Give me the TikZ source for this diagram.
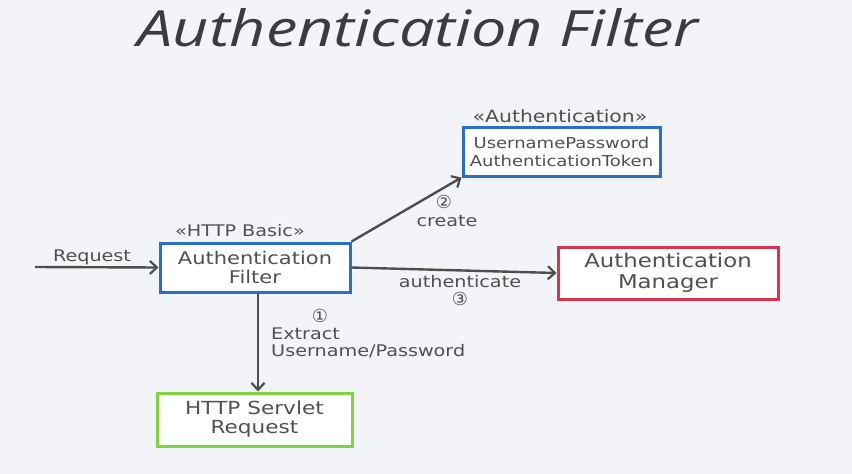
\documentclass[tikz,border=0pt]{standalone}
\usepackage{fontspec}
\setmainfont{DejaVu Sans}
\newfontfamily\titlefont[FakeStretch=1.26]{Open Sans}
\newfontfamily\hand[FakeStretch=1.2]{DejaVu Sans}
\newfontfamily\symfont{DejaVu Sans}
\usetikzlibrary{arrows.meta}
\definecolor{bg}{HTML}{F2F4F7}
\definecolor{ink}{HTML}{505050}
\definecolor{titleink}{HTML}{3C3C3E}
\definecolor{lineink}{HTML}{4E4E4E}
\definecolor{bluebox}{HTML}{2B6FC4}
\definecolor{redbox}{HTML}{D83450}
\definecolor{greenbox}{HTML}{7ED63F}
\tikzset{
  box/.style={draw, line width=3pt, fill=white, inner sep=0pt, align=center, text=ink},
  lbl/.style={text=ink, font=\hand\fontsize{16}{18}\selectfont, inner sep=0pt},
  num/.style={text=ink, font=\symfont\fontsize{18}{19}\selectfont, inner sep=0pt},
  conn/.style={draw=lineink, line width=2.4pt, -{Straight Barb[length=7pt,width=13pt,line width=2.2pt]}},
}
\begin{document}
\begin{tikzpicture}[x=1pt,y=-1pt]
\fill[bg] (0,0) rectangle (852,474);
\useasboundingbox (0,0) rectangle (852,474);
\node[font=\titlefont\itshape\fontsize{50}{54}\selectfont, text=titleink, inner sep=0pt] (title) at (418,28) {Authentication Filter};

\node[box, draw=bluebox, minimum width=190pt, minimum height=49pt, font=\hand\fontsize{17.5}{19}\selectfont] (filter) at (255,267.5) {Authentication\\Filter};
\node[box, draw=bluebox, minimum width=197pt, minimum height=49pt, font=\hand\fontsize{15}{18}\selectfont] (token) at (561.5,151.5) {UsernamePassword\\AuthenticationToken};
\node[box, draw=redbox, minimum width=220pt, minimum height=52pt, font=\hand\fontsize{19}{21}\selectfont] (manager) at (668,273) {Authentication\\Manager};
\node[box, draw=greenbox, minimum width=195pt, minimum height=53pt, font=\hand\fontsize{18}{19}\selectfont] (servlet) at (254.5,419.5) {HTTP Servlet\\Request};

\node[lbl] (basic) at (240,231) {«HTTP Basic»};
\node[lbl, font=\hand\fontsize{17}{18}\selectfont] (authst) at (560,116) {«Authentication»};

\coordinate (start) at (35,267);
\draw[conn] (start) -- (filter.west);
\node[lbl] (req) at (92,257) {Request};

\draw[conn] (filter.north east) -- (token.south west);
\node[num] (n2) at (444,202) {②};
\node[lbl] (create) at (447,221) {create};

\draw[conn] (filter.east) -- (manager.west);
\node[lbl] (auth) at (460,282) {authenticate};
\node[num] (n3) at (460,299) {③};

\draw[conn] ([xshift=3pt]filter.south) -- ([xshift=3.5pt]servlet.north);
\node[num] (n1) at (320,316) {①};
\node[lbl, anchor=west] (extract) at (271,334) {Extract};
\node[lbl, anchor=west] (userpw) at (271,351) {Username/Password};
\end{tikzpicture}
\end{document}
